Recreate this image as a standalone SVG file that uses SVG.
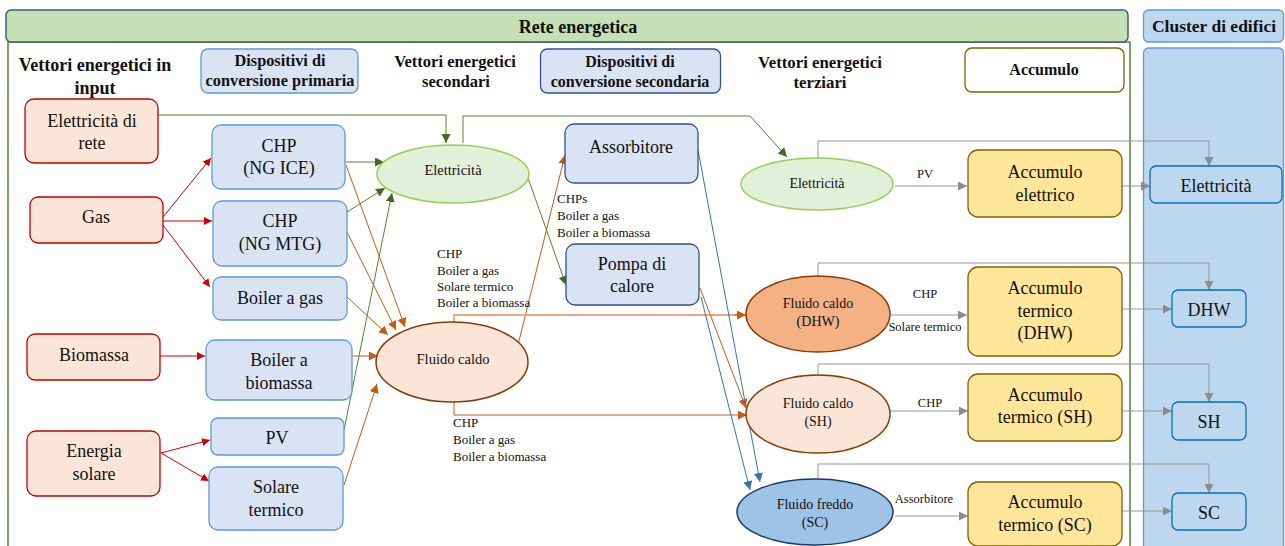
<svg xmlns="http://www.w3.org/2000/svg" width="1285" height="546" viewBox="0 0 1285 546" font-family="'Liberation Serif', 'DejaVu Serif', serif">
<style>
text{font-family:'Liberation Serif','DejaVu Serif',serif;fill:#111;text-anchor:middle}
.h{font-weight:bold;font-size:16px}
.n{font-size:18px}
.e{font-size:14.5px}
.l{font-size:13px;text-anchor:start}
.lc{font-size:12.5px}
.inp{fill:#fbe5d6;stroke:#c00000;stroke-width:1.3}
.dev{fill:#dae3f3;stroke:#5b9bd5;stroke-width:1.3}
.dev2{fill:#dae3f3;stroke:#2f528f;stroke-width:1.3}
.acc{fill:#ffe699;stroke:#7f6000;stroke-width:1.3}
.bld{fill:#bdd7ee;stroke:#0070c0;stroke-width:1.3}
.r{stroke:#d00000;fill:none;stroke-width:1}
.g{stroke:#548235;fill:none;stroke-width:1}
.o{stroke:#c55a11;fill:none;stroke-width:1}
.o2{stroke:#e9a880;fill:none;stroke-width:1.8}
.b{stroke:#2e75b6;fill:none;stroke-width:1}
.gr{stroke:#959595;fill:none;stroke-width:1}
</style>
<defs>
<marker id="mr" viewBox="0 0 10 10" refX="10" refY="5" markerWidth="8" markerHeight="8" markerUnits="userSpaceOnUse" orient="auto"><path d="M0,0L10,5L0,10z" fill="#d00000"/></marker>
<marker id="mg" viewBox="0 0 10 10" refX="10" refY="5" markerWidth="9" markerHeight="9" markerUnits="userSpaceOnUse" orient="auto"><path d="M0,0L10,5L0,10z" fill="#3f6b22"/></marker>
<marker id="mo" viewBox="0 0 10 10" refX="10" refY="5" markerWidth="9" markerHeight="9" markerUnits="userSpaceOnUse" orient="auto"><path d="M0,0L10,5L0,10z" fill="#c55a11"/></marker>
<marker id="mb" viewBox="0 0 10 10" refX="10" refY="5" markerWidth="9" markerHeight="9" markerUnits="userSpaceOnUse" orient="auto"><path d="M0,0L10,5L0,10z" fill="#2e75b6"/></marker>
<marker id="mgr" viewBox="0 0 10 10" refX="10" refY="5" markerWidth="9" markerHeight="9" markerUnits="userSpaceOnUse" orient="auto"><path d="M0,0L10,5L0,10z" fill="#8c8c8c"/></marker>
</defs>

<g id="background">
<rect x="8" y="42" width="1122" height="510" fill="#fff" stroke="#548235" stroke-width="1.5"/>
<rect x="6" y="10" width="1122" height="32" rx="5" fill="#c5e0b4" stroke="#41597c" stroke-width="1.5"/>
<text x="578" y="33" class="h" style="font-size:18px">Rete energetica</text>
<rect x="1143.5" y="10" width="140" height="32" rx="5" fill="#bdd7ee" stroke="#5b9bd5" stroke-width="1.3"/>
<text x="1214" y="32" class="h" style="font-size:17.5px">Cluster di edifici</text>
<rect x="1143.5" y="48" width="140" height="510" rx="5" fill="#bdd7ee" stroke="#5b9bd5" stroke-width="1.3"/>
</g>

<g id="headers">
<text x="95" y="71" class="h" style="font-size:18px">Vettori energetici in</text>
<text x="95" y="94" class="h" style="font-size:18px">input</text>
<rect x="201" y="49" width="157" height="44" rx="7" fill="#dae3f3" stroke="#5b9bd5" stroke-width="1.3"/>
<text x="280" y="66" class="h" style="font-size:16.3px">Dispositivi di</text>
<text x="280" y="86" class="h" style="font-size:16.3px">conversione primaria</text>
<text x="455" y="67" class="h" style="font-size:16.5px">Vettori energetici</text>
<text x="456" y="87" class="h" style="font-size:16.5px">secondari</text>
<rect x="540.5" y="49" width="180" height="44" rx="7" fill="#dae3f3" stroke="#2f528f" stroke-width="1.3"/>
<text x="630" y="67" class="h" style="font-size:16px">Dispositivi di</text>
<text x="630" y="87" class="h" style="font-size:16px">conversione secondaria</text>
<text x="820" y="68" class="h" style="font-size:16.8px">Vettori energetici</text>
<text x="820" y="88" class="h" style="font-size:16.8px">terziari</text>
<rect x="965" y="48" width="159" height="44" rx="7" fill="#fff" stroke="#7f6000" stroke-width="1.3"/>
<text x="1044" y="75" class="h" style="font-size:16px">Accumulo</text>
</g>

<g id="connectors">
<line x1="163" y1="217" x2="211" y2="158" class="r" marker-end="url(#mr)"/>
<line x1="163" y1="221" x2="212" y2="221" class="r" marker-end="url(#mr)"/>
<line x1="163" y1="225" x2="210" y2="287" class="r" marker-end="url(#mr)"/>
<line x1="160" y1="356" x2="205" y2="356" class="r" marker-end="url(#mr)"/>
<line x1="161" y1="453" x2="210" y2="440" class="r" marker-end="url(#mr)"/>
<line x1="161" y1="453" x2="209" y2="481" class="r" marker-end="url(#mr)"/>
<polyline points="158,115 446,115 446,143" class="g" marker-end="url(#mg)"/>
<line x1="345" y1="162" x2="384" y2="162" class="g" marker-end="url(#mg)"/>
<line x1="347" y1="212" x2="385" y2="188" class="g" marker-end="url(#mg)"/>
<line x1="344" y1="430" x2="392" y2="193" class="g" marker-end="url(#mg)"/>
<polyline points="463,143 463,116 750,116 787,157" class="g" marker-end="url(#mg)"/>
<line x1="528" y1="178" x2="566" y2="285" class="g" marker-end="url(#mg)"/>
<line x1="346" y1="165" x2="405" y2="327" class="o" marker-end="url(#mo)"/>
<line x1="347" y1="232" x2="396" y2="330" class="o" marker-end="url(#mo)"/>
<line x1="347" y1="297" x2="388" y2="335" class="o" marker-end="url(#mo)"/>
<line x1="352" y1="356" x2="378" y2="356" class="o" marker-end="url(#mo)"/>
<line x1="344" y1="485" x2="377" y2="384" class="o" marker-end="url(#mo)"/>
<line x1="518" y1="345" x2="565" y2="155" class="o" marker-end="url(#mo)"/>
<polyline points="454,322 454,315 746,315" class="o2"/>
<line x1="735" y1="315" x2="746" y2="315" class="o" marker-end="url(#mo)"/>
<polyline points="454,401 454,415 747,415" class="o" marker-end="url(#mo)"/>
<line x1="700" y1="288" x2="746" y2="408" class="o" marker-end="url(#mo)"/>
<line x1="698" y1="150" x2="760" y2="482" class="b" marker-end="url(#mb)"/>
<line x1="701" y1="297" x2="750" y2="490" class="b" marker-end="url(#mb)"/>
<line x1="895" y1="186" x2="967" y2="186" class="gr" marker-end="url(#mgr)"/>
<polyline points="818,158 818,141 1209,141 1209,166" class="gr" marker-end="url(#mgr)"/>
<line x1="1122" y1="186" x2="1150" y2="186" class="gr" marker-end="url(#mgr)"/>
<line x1="890" y1="315" x2="967" y2="315" class="gr" marker-end="url(#mgr)"/>
<polyline points="818,276 818,263 1209,263 1209,290" class="gr" marker-end="url(#mgr)"/>
<line x1="1122" y1="309" x2="1172" y2="309" class="gr" marker-end="url(#mgr)"/>
<line x1="890" y1="411" x2="968" y2="411" class="gr" marker-end="url(#mgr)"/>
<polyline points="818,375 818,364 1209,364 1209,402" class="gr" marker-end="url(#mgr)"/>
<line x1="1122" y1="411" x2="1172" y2="411" class="gr" marker-end="url(#mgr)"/>
<line x1="895" y1="516" x2="968" y2="516" class="gr" marker-end="url(#mgr)"/>
<polyline points="818,479 818,464 1209,464 1209,493" class="gr" marker-end="url(#mgr)"/>
<line x1="1122" y1="511" x2="1172" y2="511" class="gr" marker-end="url(#mgr)"/>
<text x="557" y="203" class="l">CHPs</text>
<text x="557" y="220" class="l">Boiler a gas</text>
<text x="557" y="237" class="l">Boiler a biomassa</text>
<text x="437" y="258" class="l">CHP</text>
<text x="437" y="275" class="l">Boiler a gas</text>
<text x="437" y="291" class="l">Solare termico</text>
<text x="437" y="307" class="l">Boiler a biomassa</text>
<text x="453" y="427" class="l">CHP</text>
<text x="453" y="444" class="l">Boiler a gas</text>
<text x="453" y="461" class="l">Boiler a biomassa</text>
<text x="925" y="178" class="lc">PV</text>
<text x="925" y="298" class="lc">CHP</text>
<text x="925" y="331" class="lc">Solare termico</text>
<text x="930" y="407" class="lc">CHP</text>
<text x="924" y="503" class="lc">Assorbitore</text>
</g>

<g id="n-elettricita-rete"><rect x="25" y="99" width="133" height="64" rx="9" class="inp"/><text x="92" y="127" class="n">Elettricità di</text><text x="92" y="149" class="n">rete</text></g>
<g id="n-gas"><rect x="30" y="197" width="133" height="46" rx="8" class="inp"/><text x="96" y="223" class="n">Gas</text></g>
<g id="n-biomassa"><rect x="27" y="334" width="133" height="46" rx="8" class="inp"/><text x="94" y="361" class="n">Biomassa</text></g>
<g id="n-energia-solare"><rect x="27" y="431" width="133" height="65" rx="9" class="inp"/><text x="94" y="457" class="n">Energia</text><text x="94" y="480" class="n">solare</text></g>

<g id="n-chp-ice"><rect x="212" y="125" width="133" height="64" rx="9" class="dev"/><text x="279" y="152" class="n">CHP</text><text x="279" y="174" class="n">(NG ICE)</text></g>
<g id="n-chp-mtg"><rect x="213" y="201" width="134" height="65" rx="9" class="dev"/><text x="280" y="227" class="n">CHP</text><text x="280" y="250" class="n">(NG MTG)</text></g>
<g id="n-boiler-gas"><rect x="213" y="277" width="134" height="43" rx="8" class="dev"/><text x="280" y="304" class="n">Boiler a gas</text></g>
<g id="n-boiler-biomassa"><rect x="206" y="340" width="146" height="60" rx="9" class="dev"/><text x="279" y="366" class="n">Boiler a</text><text x="279" y="389" class="n">biomassa</text></g>
<g id="n-pv"><rect x="211" y="418" width="133" height="37" rx="7" class="dev"/><text x="277" y="444" class="n">PV</text></g>
<g id="n-solare-termico"><rect x="209" y="467" width="134" height="63" rx="9" class="dev"/><text x="276" y="493" class="n">Solare</text><text x="276" y="516" class="n">termico</text></g>

<g id="n-elettricita-2"><ellipse cx="453" cy="174" rx="76" ry="29" fill="#e2f0d9" stroke="#92d050" stroke-width="1.5"/><text x="453" y="175" class="e">Elettricità</text></g>
<g id="n-fluido-caldo"><ellipse cx="452" cy="362" rx="76" ry="40" fill="#fbe5d6" stroke="#843c0c" stroke-width="1.5"/><text x="453" y="364" class="e">Fluido caldo</text></g>

<g id="n-assorbitore"><rect x="565" y="124" width="133" height="59" rx="9" class="dev2"/><text x="631" y="153" class="n">Assorbitore</text></g>
<g id="n-pompa"><rect x="566" y="244" width="133" height="61" rx="9" class="dev2"/><text x="632" y="270" class="n">Pompa di</text><text x="632" y="292" class="n">calore</text></g>

<g id="n-elettricita-3"><ellipse cx="817" cy="184" rx="76" ry="26" fill="#e2f0d9" stroke="#92d050" stroke-width="1.5"/><text x="817" y="188" class="e" style="font-size:14px">Elettricità</text></g>
<g id="n-fluido-dhw"><ellipse cx="818" cy="314" rx="72" ry="38" fill="#f4b183" stroke="#843c0c" stroke-width="1.5"/><text x="818" y="308" class="e" style="font-size:14px">Fluido caldo</text><text x="818" y="326" class="e" style="font-size:14px">(DHW)</text></g>
<g id="n-fluido-sh"><ellipse cx="818" cy="414" rx="72" ry="39" fill="#fbe5d6" stroke="#843c0c" stroke-width="1.5"/><text x="818" y="408" class="e" style="font-size:14px">Fluido caldo</text><text x="818" y="426" class="e" style="font-size:14px">(SH)</text></g>
<g id="n-fluido-sc"><ellipse cx="815" cy="512" rx="78" ry="33" fill="#9dc3e6" stroke="#203864" stroke-width="1.5"/><text x="815" y="509" class="e" style="font-size:14px">Fluido freddo</text><text x="815" y="527" class="e" style="font-size:14px">(SC)</text></g>

<g id="n-acc-el"><rect x="968" y="150" width="154" height="67" rx="10" class="acc"/><text x="1045" y="178" class="n">Accumulo</text><text x="1045" y="201" class="n">elettrico</text></g>
<g id="n-acc-dhw"><rect x="968" y="267" width="154" height="89" rx="10" class="acc"/><text x="1045" y="294" class="n">Accumulo</text><text x="1045" y="317" class="n">termico</text><text x="1045" y="339" class="n">(DHW)</text></g>
<g id="n-acc-sh"><rect x="968" y="374" width="154" height="67" rx="10" class="acc"/><text x="1045" y="401" class="n">Accumulo</text><text x="1045" y="423" class="n">termico (SH)</text></g>
<g id="n-acc-sc"><rect x="968" y="482" width="154" height="64" rx="10" class="acc"/><text x="1045" y="508" class="n">Accumulo</text><text x="1045" y="531" class="n">termico (SC)</text></g>

<g id="n-b-el"><rect x="1150" y="166" width="132" height="37" rx="6" class="bld"/><text x="1216" y="192" class="n">Elettricità</text></g>
<g id="n-b-dhw"><rect x="1172" y="290" width="74" height="37" rx="6" class="bld"/><text x="1209" y="316" class="n">DHW</text></g>
<g id="n-b-sh"><rect x="1172" y="402" width="74" height="38" rx="6" class="bld"/><text x="1209" y="428" class="n">SH</text></g>
<g id="n-b-sc"><rect x="1172" y="493" width="74" height="37" rx="6" class="bld"/><text x="1209" y="519" class="n">SC</text></g>
</svg>
